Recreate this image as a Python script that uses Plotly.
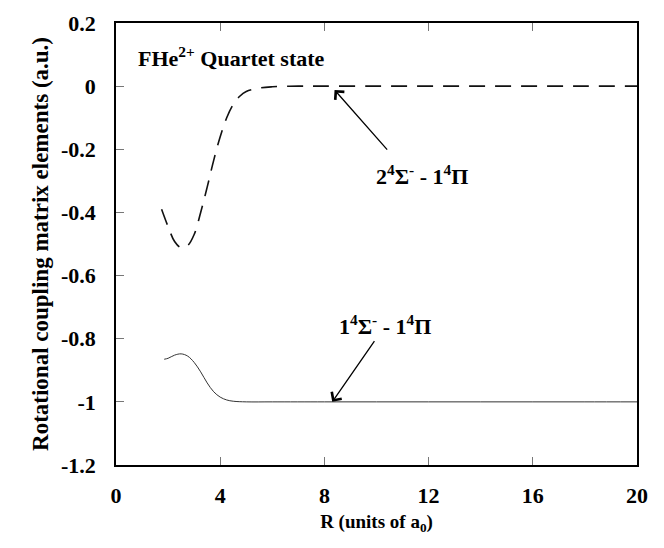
import plotly.graph_objects as go

# Rotational coupling matrix elements for FHe2+ quartet states
r_sigma2 = [1.75, 2.0, 2.25, 2.5, 2.75, 3.0, 3.25, 3.5, 3.75, 4.0, 4.25, 4.5,
            4.75, 5.0, 5.5, 6.0, 7.0, 8.0, 10.0, 12.0, 14.0, 16.0, 18.0, 20.0]
v_sigma2 = [-0.39, -0.445, -0.492, -0.512, -0.505, -0.47, -0.40, -0.32, -0.235,
            -0.16, -0.10, -0.058, -0.032, -0.017, -0.006, -0.002, 0.0, 0.0,
            0.0, 0.0, 0.0, 0.0, 0.0, 0.0]

r_sigma1 = [1.85, 2.0, 2.25, 2.5, 2.75, 3.0, 3.25, 3.5, 3.75, 4.0, 4.25, 4.5,
            5.0, 6.0, 8.0, 10.0, 12.0, 14.0, 16.0, 18.0, 20.0]
v_sigma1 = [-0.865, -0.862, -0.852, -0.848, -0.855, -0.875, -0.905, -0.940,
            -0.968, -0.985, -0.994, -0.998, -1.0, -1.0, -1.0, -1.0, -1.0,
            -1.0, -1.0, -1.0, -1.0]

x_ticks = [0, 4, 8, 12, 16, 20]
x_tick_text = ["0", "4", "8", "12", "16", "20"]
y_ticks = [0.2, 0, -0.2, -0.4, -0.6, -0.8, -1, -1.2]
y_tick_text = ["0.2", "0", "-0.2", "-0.4", "-0.6", "-0.8", "-1", "-1.2"]

font_family = "Liberation Serif"


def bold(s):
    return "<b>" + s + "</b>"


fig = go.Figure()
fig.add_trace(go.Scatter(
    x=r_sigma2, y=v_sigma2, mode="lines", line_shape="spline",
    line=dict(color="#111111", width=1.6, dash="16px,10px"),
    showlegend=False))
fig.add_trace(go.Scatter(
    x=r_sigma1, y=v_sigma1, mode="lines", line_shape="spline",
    line=dict(color="#333333", width=1.0),
    showlegend=False))

txt_font = dict(family=font_family, size=22, color="black")

# Curve labels with arrows pointing to each curve
fig.add_annotation(x=8.39, y=-0.012, ax=10.46, ay=-0.206, xref="x", yref="y",
                   axref="x", ayref="y", text="", showarrow=True,
                   arrowhead=4, arrowsize=1.8, arrowwidth=1.3, arrowcolor="black")
fig.add_annotation(x=11.73, y=-0.28, xref="x", yref="y", showarrow=False,
                   text=bold("2<sup>4</sup>Σ<sup>-</sup> - 1<sup>4</sup>Π"), font=txt_font)
fig.add_annotation(x=8.3, y=-1.0, ax=9.96, ay=-0.803, xref="x", yref="y",
                   axref="x", ayref="y", text="", showarrow=True,
                   arrowhead=4, arrowsize=1.8, arrowwidth=1.3, arrowcolor="black")
fig.add_annotation(x=10.31, y=-0.757, xref="x", yref="y", showarrow=False,
                   text=bold("1<sup>4</sup>Σ<sup>-</sup> - 1<sup>4</sup>Π"), font=txt_font)
fig.add_annotation(x=0.77, y=0.092, xref="x", yref="y", showarrow=False,
                   xanchor="left", text=bold("FHe<sup>2+</sup> Quartet state"),
                   font=dict(family=font_family, size=22, color="black"))

axis_font = dict(family=font_family, size=22, color="black")

fig.update_layout(
    width=664, height=548,
    margin=dict(l=116, r=27, t=11, b=83),
    plot_bgcolor="white", paper_bgcolor="white",
    xaxis=dict(
        range=[0, 20], tickvals=x_ticks, ticktext=[bold(t) for t in x_tick_text],
        ticks="inside", ticklen=8,
        tickcolor="#777777", tickwidth=1, showgrid=False, zeroline=False,
        showline=True, linecolor="black", linewidth=1.5, mirror="ticks",
        tickfont=axis_font, ticklabelstandoff=10,
        title=dict(text=bold("R (units of a<sub>0</sub>)"),
                   font=dict(family=font_family, size=19, color="black"), standoff=8)),
    yaxis=dict(
        range=[-1.2, 0.2], tickvals=y_ticks, ticktext=[bold(t) for t in y_tick_text],
        ticks="inside", ticklen=8, tickcolor="#777777", tickwidth=1,
        showgrid=False, zeroline=False, showline=True, linecolor="black",
        linewidth=1.5, mirror=True, tickfont=axis_font, ticklabelstandoff=14,
        title=dict(text=bold("Rotational coupling matrix elements (a.u.)"),
                   font=dict(family=font_family, size=23, color="black"),
                   standoff=6)),
)

fig.write_html("out.html")
